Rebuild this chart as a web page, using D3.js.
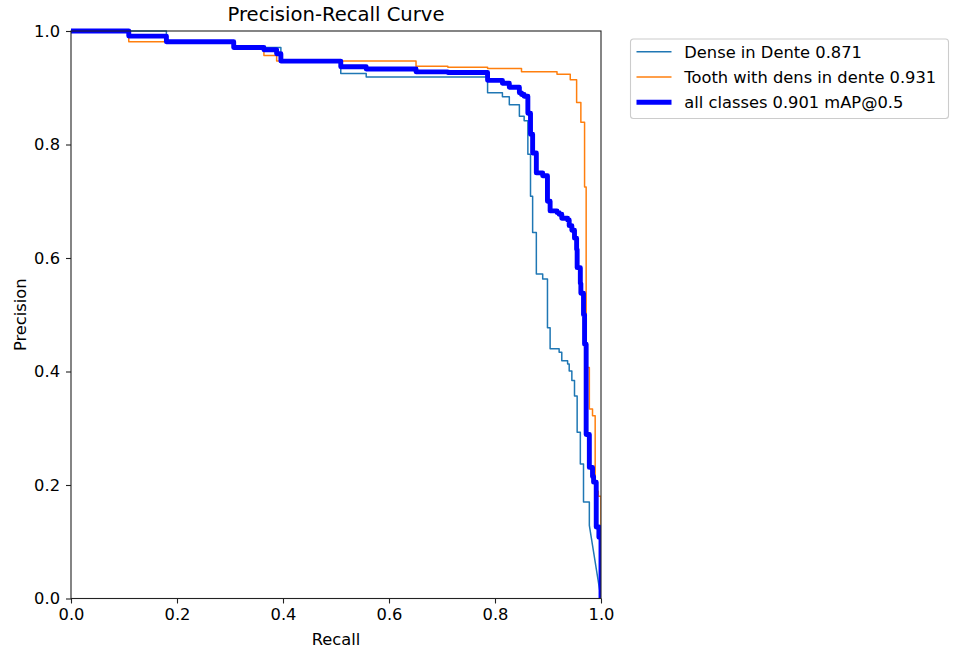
<!DOCTYPE html>
<html>
<head>
<meta charset="utf-8">
<script src="https://cdn.jsdelivr.net/npm/d3@7"></script>
<style>
  html, body { margin: 0; padding: 0; background: #fff; }
  svg { display: block; font-family: "DejaVu Sans", sans-serif; }
</style>
</head>
<body>
<svg id="chart" width="956" height="653"></svg>
<script>
// Precision-recall step curves: each series is a list of recall breakpoints
// and the precision held from that recall until the next breakpoint.
const seriesNames = ["Dense in Dente 0.871", "Tooth with dens in dente 0.931", "all classes 0.901 mAP@0.5"];

const recallDense = [0, 0.18, 0.307, 0.396, 0.509, 0.557, 0.786, 0.814, 0.827, 0.846, 0.855, 0.862, 0.867,
  0.871, 0.878, 0.890, 0.899, 0.904, 0.921, 0.926, 0.937, 0.940, 0.945, 0.950, 0.955, 0.961, 0.967, 0.978];
const precisionDense = [1.0, 0.981, 0.971, 0.947, 0.925, 0.919, 0.891, 0.884, 0.870, 0.850, 0.842, 0.783, 0.709,
  0.645, 0.572, 0.563, 0.477, 0.440, 0.434, 0.419, 0.413, 0.401, 0.384, 0.357, 0.293, 0.237, 0.170, 0.129];

const recallTooth = [0, 0.109, 0.307, 0.364, 0.388, 0.651, 0.711, 0.786, 0.850, 0.917, 0.942, 0.954, 0.962,
  0.969, 0.972, 0.978, 0.984, 0.989, 0.995, 1.0];
const precisionTooth = [1.0, 0.981, 0.971, 0.957, 0.947, 0.938, 0.936, 0.934, 0.928, 0.924, 0.914, 0.874, 0.839,
  0.725, 0.407, 0.334, 0.322, 0.189, 0.180, 0.180];

const recallAll = [0, 0.109, 0.18, 0.307, 0.364, 0.388, 0.396, 0.509, 0.557, 0.651, 0.711, 0.786, 0.814, 0.827,
  0.846, 0.850, 0.855, 0.862, 0.867, 0.871, 0.878, 0.890, 0.899, 0.904, 0.917, 0.921, 0.926, 0.937, 0.940, 0.945,
  0.950, 0.954, 0.955, 0.961, 0.962, 0.967, 0.969, 0.972, 0.978, 0.984, 0.986, 0.991, 0.996, 1.0];
const precisionAll = [1.0, 0.991, 0.981, 0.971, 0.967, 0.960, 0.947, 0.937, 0.933, 0.928, 0.927, 0.913, 0.908, 0.901,
  0.891, 0.888, 0.885, 0.855, 0.818, 0.785, 0.750, 0.745, 0.700, 0.683, 0.680, 0.677, 0.670, 0.667, 0.657, 0.649,
  0.635, 0.615, 0.583, 0.555, 0.538, 0.500, 0.448, 0.289, 0.231, 0.215, 0.205, 0.126, 0.108, 0.090];

// every curve closes at recall 1, precision 0
const curveEnd = [1.0, 0.0];

const xTicks = [0, 0.2, 0.4, 0.6, 0.8, 1.0];
const yTicks = [0, 0.2, 0.4, 0.6, 0.8, 1.0];

const svg = d3.select("#chart");
const plotLeft = 71, plotRight = 601, plotTop = 31, plotBottom = 598.5;

const x = d3.scaleLinear().domain([0, 1]).range([plotLeft, plotRight]);
const y = d3.scaleLinear().domain([0, 1]).range([plotBottom, plotTop]);

function stepVertices(rs, ps) {
  const v = [];
  rs.forEach((r, i) => {
    if (i > 0) v.push([r, ps[i - 1]]);
    v.push([r, ps[i]]);
  });
  v.push(curveEnd);
  return v;
}

const line = d3.line().x(d => x(d[0])).y(d => y(d[1]));

const series = [
  { name: seriesNames[0], pts: stepVertices(recallDense, precisionDense), color: "#1f77b4", width: 1.5 },
  { name: seriesNames[1], pts: stepVertices(recallTooth, precisionTooth), color: "#ff7f0e", width: 1.5 },
  { name: seriesNames[2], pts: stepVertices(recallAll, precisionAll), color: "#0000ff", width: 4.9 }
];

const clip = svg.append("defs").append("clipPath").attr("id", "plot-clip");
clip.append("rect").attr("x", plotLeft).attr("y", plotTop - 3)
  .attr("width", plotRight - plotLeft).attr("height", plotBottom - plotTop + 3);

svg.append("g")
  .attr("clip-path", "url(#plot-clip)")
  .selectAll("path")
  .data(series)
  .join("path")
  .attr("d", d => line(d.pts))
  .attr("fill", "none")
  .attr("stroke", d => d.color)
  .attr("stroke-width", d => d.width)
  .attr("stroke-linejoin", "round")
  .attr("stroke-linecap", "butt");

// axes
const fmt = d3.format(".1f");
const xAxis = svg.append("g")
  .attr("transform", `translate(0,${plotBottom})`)
  .call(d3.axisBottom(x).tickValues(xTicks).tickFormat(fmt).tickSize(5).tickPadding(5));
const yAxis = svg.append("g")
  .attr("transform", `translate(${plotLeft},0)`)
  .call(d3.axisLeft(y).tickValues(yTicks).tickFormat(fmt).tickSize(5).tickPadding(6));

[xAxis, yAxis].forEach(g => {
  g.select(".domain").remove();
  g.selectAll(".tick line").attr("stroke", "#222").attr("stroke-width", 1.1);
  g.selectAll(".tick text").attr("fill", "#000").style("font-size", "16.3px")
    .style("font-family", "DejaVu Sans");
});

// frame
svg.append("rect")
  .attr("x", plotLeft).attr("y", plotTop)
  .attr("width", plotRight - plotLeft).attr("height", plotBottom - plotTop)
  .attr("fill", "none").attr("stroke", "#222").attr("stroke-width", 1.1);

// labels
svg.append("text")
  .attr("x", (plotLeft + plotRight) / 2).attr("y", 21)
  .attr("text-anchor", "middle")
  .style("font-size", "19.6px")
  .text("Precision-Recall Curve");

svg.append("text")
  .attr("x", (plotLeft + plotRight) / 2).attr("y", 645)
  .attr("text-anchor", "middle")
  .style("font-size", "16.3px")
  .text("Recall");

svg.append("text")
  .attr("transform", `translate(25.5,${(plotTop + plotBottom) / 2}) rotate(-90)`)
  .attr("text-anchor", "middle")
  .style("font-size", "16.3px")
  .text("Precision");

// legend
const legend = svg.append("g").attr("transform", "translate(630.5,39)");
legend.append("rect")
  .attr("width", 318).attr("height", 79.5)
  .attr("rx", 3).attr("ry", 3)
  .attr("fill", "#fff").attr("fill-opacity", 0.8)
  .attr("stroke", "#cccccc").attr("stroke-width", 1.1);

const rows = legend.selectAll("g.row")
  .data(series)
  .join("g")
  .attr("class", "row")
  .attr("transform", (d, i) => `translate(0,${12.7 + i * 25.3})`);

rows.append("line")
  .attr("x1", 6).attr("x2", 41)
  .attr("stroke", d => d.color)
  .attr("stroke-width", d => d.width);

rows.append("text")
  .attr("x", 53.8)
  .attr("dy", "0.36em")
  .style("font-size", "16.3px")
  .text(d => d.name);
</script>
</body>
</html>
